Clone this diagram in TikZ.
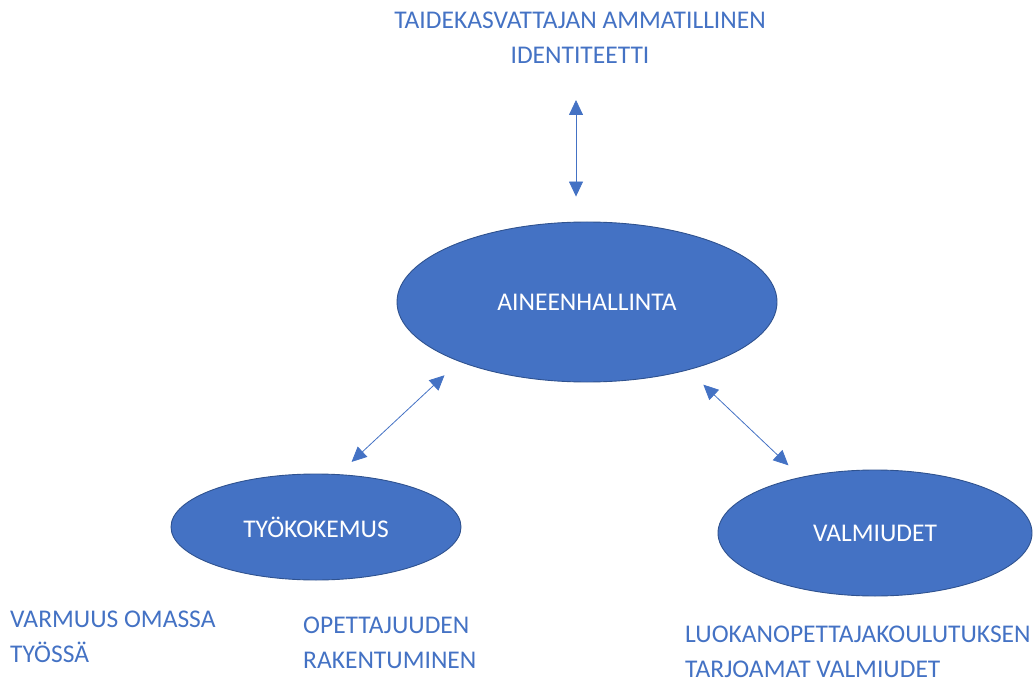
\documentclass[tikz,border=0pt]{standalone}
\usepackage{fontspec}
\setmainfont{Carlito}
\usetikzlibrary{arrows.meta,shapes.geometric}
\definecolor{officeblue}{HTML}{4472C4}
\definecolor{darkblue}{HTML}{2F528F}

\begin{document}
\begin{tikzpicture}
  [x=1pt,y=-1pt,
   blob/.style={ellipse,fill=officeblue,draw=darkblue,line width=0.9pt,
     inner sep=0pt,text=white,font=\fontsize{25.5}{35}\selectfont},
   lbl/.style={text=officeblue,inner sep=0pt,font=\fontsize{25.5}{35}\selectfont},
   biarrow/.style={draw=officeblue,line width=0.8pt,
     {Triangle[length=15pt,width=14pt]}-{Triangle[length=15pt,width=14pt]}}]
  \useasboundingbox (0,0) rectangle (1035,684);

  \node[blob,minimum width=380pt,minimum height=160pt] (hallinta) at (587,302) {AINEENHALLINTA};
  \node[blob,minimum width=290pt,minimum height=106pt] (kokemus) at (316,527) {TYÖKOKEMUS};
  \node[blob,minimum width=314pt,minimum height=126pt] (valmiudet) at (875,533) {VALMIUDET};

  % multi-line labels: base = baseline of the last line
  \node[lbl,align=center,anchor=base] (identiteetti) at (580,64)
    {TAIDEKASVATTAJAN AMMATILLINEN\\IDENTITEETTI};
  \node[lbl,align=left,anchor=base west] (varmuus) at (10,662)
    {VARMUUS OMASSA\\TYÖSSÄ};
  \node[lbl,align=left,anchor=base west] (opettajuus) at (303,668)
    {OPETTAJUUDEN\\RAKENTUMINEN};
  \node[lbl,align=left,anchor=base west] (koulutus) at (685,677)
    {LUOKANOPETTAJAKOULUTUKSEN\\TARJOAMAT VALMIUDET};

  \coordinate (ylapaa) at (576,100);
  \draw[biarrow] (ylapaa) -- ([xshift=-11pt,yshift=25pt]hallinta.north);
  \draw[biarrow,shorten <=20pt,shorten >=18pt] (hallinta.205.6) -- (kokemus.67.9);
  \draw[biarrow,shorten <=21pt,shorten >=17pt] (hallinta.326.6) -- (valmiudet.143.9);

\end{tikzpicture}
\end{document}
